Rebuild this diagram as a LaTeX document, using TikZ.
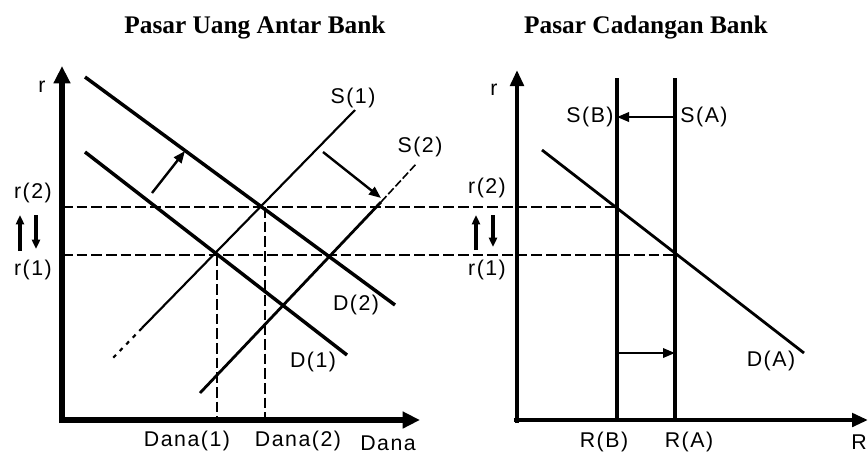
\documentclass[tikz,border=0pt]{standalone}
\usepackage{fontspec}
\setmainfont{Liberation Sans}[LetterSpace=7]
\newfontfamily\titlefont{Liberation Serif}
\usetikzlibrary{arrows.meta}
\begin{document}
\begin{tikzpicture}[x=0.75pt,y=-0.75pt,
  lab/.style={font=\fontsize{16}{19}\selectfont, inner sep=0pt},
  ttl/.style={font=\titlefont\bfseries\fontsize{19}{22}\selectfont, inner sep=0pt},
  axisline/.style={line width=4.2pt, -{Triangle[length=13pt,width=12pt]}},
  axisline2/.style={line width=3pt, -{Triangle[length=12pt,width=10pt]}},
  dline/.style={line width=2.6pt},
  sline/.style={line width=1.6pt},
  guide/.style={line width=1.4pt, dash pattern=on 8pt off 3pt},
  shiftarrow/.style={line width=1.8pt, -{Triangle[length=9pt,width=7pt]}},
  updown/.style={line width=2.6pt, -{Triangle[length=7pt,width=6pt]}},
  vline/.style={line width=2.8pt}
]
\useasboundingbox (0,0) rectangle (868,455);

% ---------- titles ----------
\node[ttl] (t1) at (255,27) {Pasar Uang Antar Bank};
\node[ttl] (t2) at (646,27) {Pasar Cadangan Bank};

% ---------- left panel coordinates ----------
\coordinate (LOb) at (62,423);
\coordinate (LOl) at (59,420);
\coordinate (LY) at (62,66);
\coordinate (LX) at (420,420);

\coordinate (D2a) at (85,77);
\coordinate (D2b) at (395,305);
\coordinate (D1a) at (85,152);
\coordinate (D1b) at (347,355);
\coordinate (S1a) at (355,110);
\coordinate (S1m) at (142,328);
\coordinate (S1d) at (113,358);
\coordinate (S2a) at (417,163);
\coordinate (S2m) at (381,202);
\coordinate (S2b) at (200,393);

\coordinate (E1) at (217,255);
\coordinate (E2) at (265,207);
\coordinate (F1) at (217,420);
\coordinate (F2) at (265,420);

\coordinate (H2a) at (62,207);
\coordinate (H2b) at (617,207);
\coordinate (H1a) at (62,255);
\coordinate (H1b) at (675,255);

\coordinate (A1s) at (152,193);
\coordinate (A1e) at (185,151);
\coordinate (A2s) at (323,152);
\coordinate (A2e) at (381,198);

\coordinate (U1s) at (20,251);
\coordinate (U1e) at (20,215);
\coordinate (W1s) at (36,215);
\coordinate (W1e) at (36,249);

% ---------- guides ----------
\draw[guide] (H2a) -- (H2b);
\draw[guide] (H1a) -- (H1b);
\draw[guide] (E1) -- (F1);
\draw[guide] (E2) -- (F2);

% ---------- curves left ----------
\draw[dline] (D2a) -- (D2b);
\draw[dline] (D1a) -- (D1b);
\draw[sline] (S1a) -- (S1m);
\draw[sline, dash pattern=on 3pt off 4pt] (S1m) -- (S1d);
\draw[sline, line width=2.1pt] (S2b) -- (S2m);
\draw[sline, line width=1.2pt, dash pattern=on 6pt off 2pt] (S2m) -- (S2a);

\draw[shiftarrow] (A1s) -- (A1e);
\draw[shiftarrow] (A2s) -- (A2e);

\draw[updown] (U1s) -- (U1e);
\draw[updown] (W1s) -- (W1e);

% ---------- axes left ----------
\draw[axisline] (LOb) -- (LY);
\draw[axisline] (LOl) -- (LX);

% ---------- labels left ----------
\node[lab] (lr) at (42,87) {r};
\node[lab] (lr2) at (33,193) {r(2)};
\node[lab] (lr1) at (33,270) {r(1)};
\node[lab] (ls1) at (353,98) {S(1)};
\node[lab] (ls2) at (420,147) {S(2)};
\node[lab] (ld2) at (356,305) {D(2)};
\node[lab] (ld1) at (313,362) {D(1)};
\node[lab] (ldn1) at (187,441) {Dana(1)};
\node[lab] (ldn2) at (298,441) {Dana(2)};
\node[lab] (ldn) at (388,443) {Dana};

% ---------- right panel coordinates ----------
\coordinate (RO) at (517,423);
\coordinate (ROl) at (514,420);
\coordinate (RY) at (517,70);
\coordinate (RX) at (868,420);

\coordinate (SBt) at (617,78);
\coordinate (SBb) at (617,420);
\coordinate (SAt) at (675,78);
\coordinate (SAb) at (675,420);
\coordinate (DAa) at (542,150);
\coordinate (DAb) at (804,353);

\coordinate (B1s) at (675,117);
\coordinate (B1e) at (617,117);
\coordinate (B2s) at (617,353);
\coordinate (B2e) at (675,353);

\coordinate (U2s) at (476,250);
\coordinate (U2e) at (476,215);
\coordinate (W2s) at (493,215);
\coordinate (W2e) at (493,247);

% ---------- right panel drawing ----------
\draw[vline] (SBb) -- (SBt);
\draw[vline] (SAb) -- (SAt);
\draw[line width=2.1pt] (DAa) -- (DAb);
\draw[shiftarrow] (B1s) -- (B1e);
\draw[shiftarrow] (B2s) -- (B2e);
\draw[updown] (U2s) -- (U2e);
\draw[updown] (W2s) -- (W2e);

\draw[axisline2] (RO) -- (RY);
\draw[axisline2] (ROl) -- (RX);

% ---------- labels right ----------
\node[lab] (rr) at (494,90) {r};
\node[lab] (rr2) at (487,188) {r(2)};
\node[lab] (rr1) at (487,270) {r(1)};
\node[lab] (rsb) at (590,117) {S(B)};
\node[lab] (rsa) at (704,117) {S(A)};
\node[lab] (rda) at (771,361) {D(A)};
\node[lab] (rrb) at (604,442) {R(B)};
\node[lab] (rra) at (689,442) {R(A)};
\node[lab] (rR) at (859,442) {R};
\end{tikzpicture}
\end{document}
